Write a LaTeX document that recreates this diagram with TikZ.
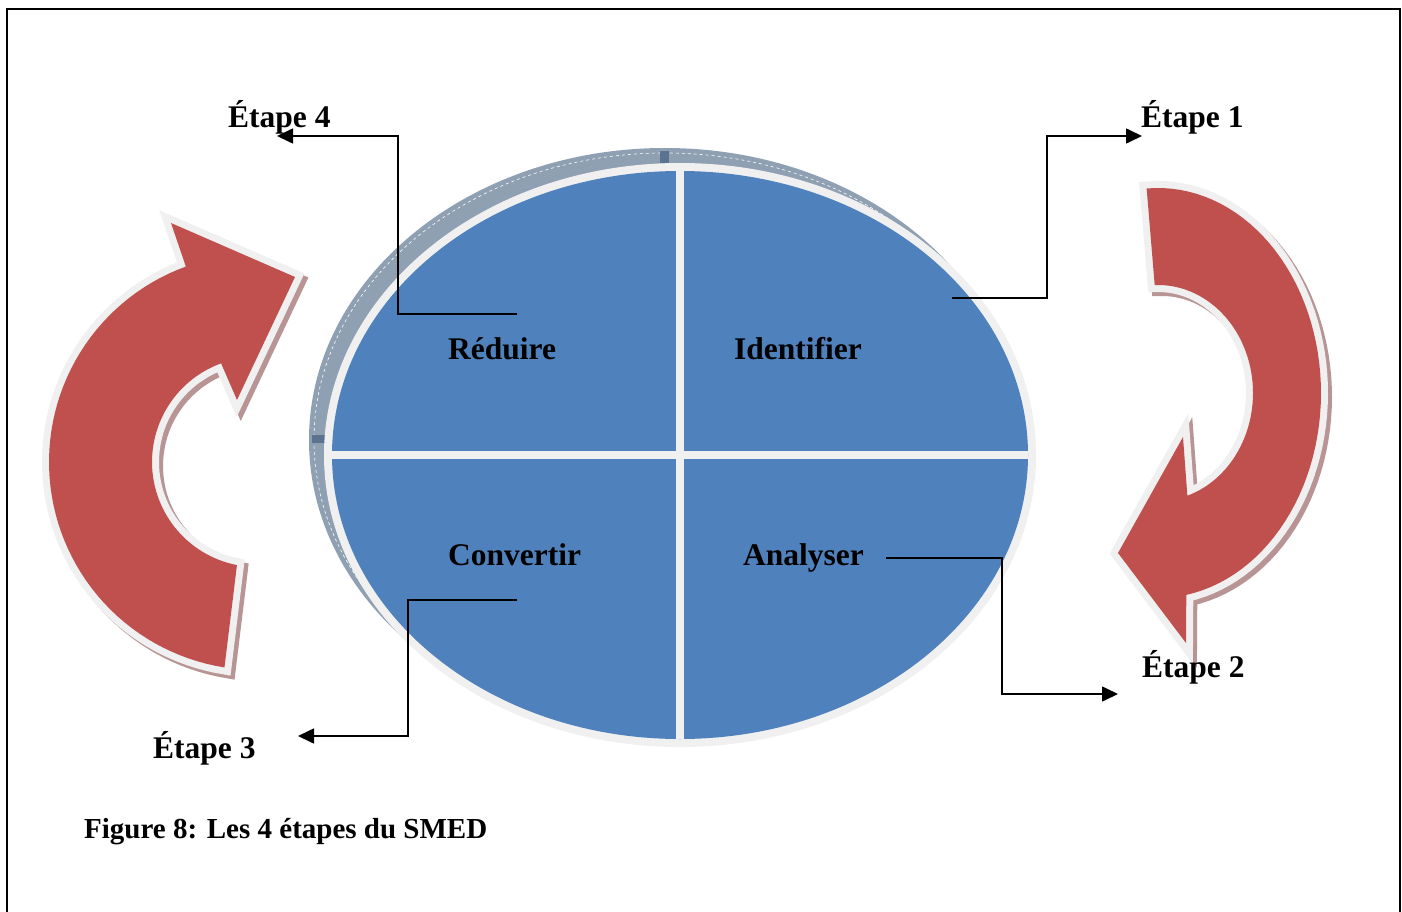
\documentclass[tikz,border=0pt]{standalone}
\usepackage{fontspec}
\setmainfont{Liberation Serif}
\usetikzlibrary{arrows.meta}
\definecolor{sblue}{HTML}{4F81BD}
\definecolor{sred}{HTML}{C0504D}
\definecolor{sline}{HTML}{F0F0F0}
\definecolor{sring}{HTML}{8FA0B3}
\definecolor{smark}{HTML}{5B7291}
\definecolor{sshadow}{RGB}{184,148,148}
\tikzset{
  lbl/.style={inner sep=0pt, anchor=base west, font=\fontsize{31.5}{36}\selectfont\bfseries},
  captionsty/.style={inner sep=0pt, anchor=base west, font=\fontsize{29}{34}\selectfont\bfseries},
  conn/.style={line width=1.6pt, -{Triangle[length=16pt,width=15pt]}},
  leftarr/.style={insert path={
    plot[domain=99:250,samples=60] ({257+208*cos(\x)},{462+208*sin(\x)})
    -- (171,223) -- (295,277) -- (237,400)
    -- plot[domain=250:101,samples=60] ({257+105*cos(\x)},{462+105*sin(\x)}) -- cycle}},
  rightarr/.style={insert path={
    plot[domain=-94:80,samples=60] ({1158+163*cos(\x)},{393+205*sin(\x)})
    -- (1186,643) -- (1118,553) -- (1183,437)
    -- plot[domain=72:-92,samples=60] ({1158+95*cos(\x)},{393+108*sin(\x)}) -- cycle}},
  shadowsty/.style={fill=sshadow, draw=sshadow, line width=14pt, line join=miter, shift={(4,4)}},
  outlinesty/.style={draw=sline, line width=14pt, line join=miter},
  redsty/.style={fill=sred},
}
\begin{document}
\begin{tikzpicture}[x=1pt,y=-1pt]
\useasboundingbox (0,0) rectangle (1402,912);
\fill[white] (0,0) rectangle (1402,912);
% frame
\draw[line width=1.5pt] (7,912) -- (7,9) -- (1400,9) -- (1400,912);

% red circular arrows
\path[shadowsty, leftarr];
\path[outlinesty, leftarr];
\path[redsty, leftarr];
\path[shadowsty, rightarr];
\path[outlinesty, rightarr];
\path[redsty, rightarr];

% ring behind the ellipse
\fill[sring] (665,440) ellipse [x radius=356, y radius=292];
\draw[white, line width=0.6pt, dashed] (665,440) ellipse [x radius=351, y radius=287];
\fill[smark] (660,151) rectangle (669,163);
\fill[smark] (312,435) rectangle (325,443);

% main ellipse
\fill[sline] (680,455) ellipse [x radius=356, y radius=292];
\fill[sblue] (680,455) ellipse [x radius=348, y radius=284];
\begin{scope}
\clip (680,455) ellipse [x radius=348, y radius=284];
\fill[sline] (676,150) rectangle (684,760);
\fill[sline] (320,451) rectangle (1040,459);
\end{scope}

% quadrant labels
\node[lbl] (reduire) at (448,359) {Réduire};
\node[lbl] (identifier) at (734,359) {Identifier};
\node[lbl] (convertir) at (448,565) {Convertir};
\node[lbl] (analyser) at (743,565) {Analyser};

% step labels
\node[lbl] (e4) at (228,128) {Étape 4};
\node[lbl] (e1) at (1141,128) {Étape 1};
\node[lbl] (e2) at (1142,677) {Étape 2};
\node[lbl] (e3) at (153,758) {Étape 3};

% connectors
\coordinate (s4) at (517,314); \coordinate (t4) at (277,136);
\coordinate (s1) at (952,298); \coordinate (t1) at (1142,136);
\coordinate (s3) at (517,600); \coordinate (t3) at (298,736);
\coordinate (s2) at (886,558); \coordinate (t2) at (1118,694);
\draw[conn] (s4) -- ++(-119,0) |- (t4);
\draw[conn] (s1) -- ++(95,0) |- (t1);
\draw[conn] (s3) -- ++(-109,0) |- (t3);
\draw[conn] (s2) -- ++(116,0) |- (t2);

% caption
\node[captionsty] (caption) at (84,838) {Figure 8: Les 4 étapes du SMED};
\end{tikzpicture}
\end{document}
